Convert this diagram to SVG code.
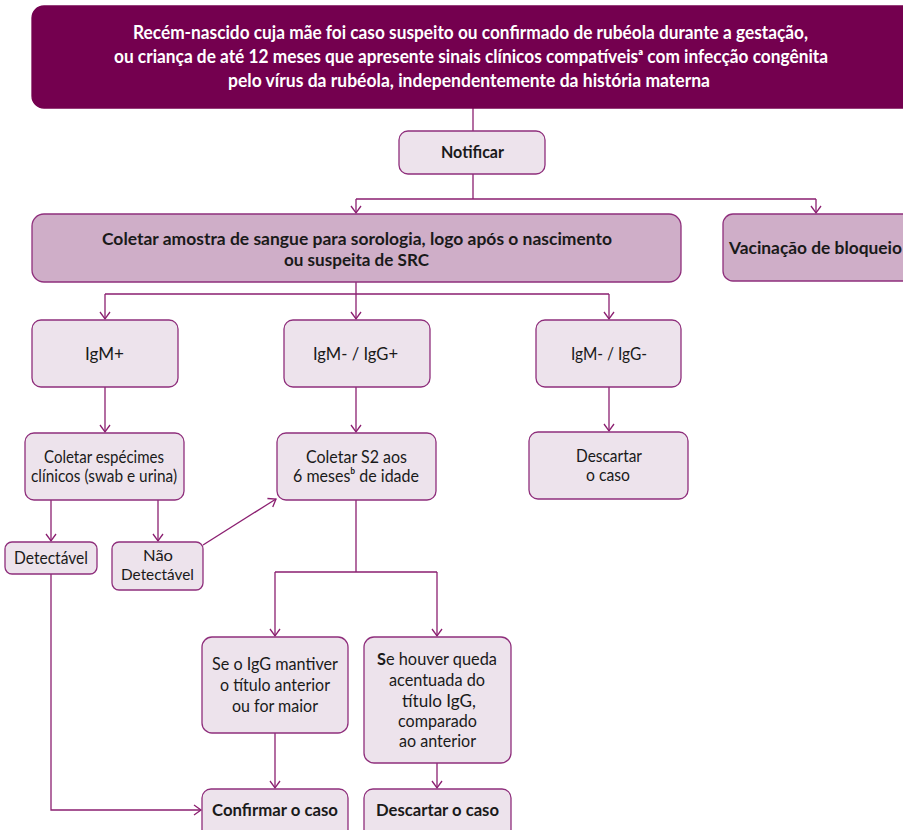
<svg xmlns="http://www.w3.org/2000/svg" width="903" height="830" viewBox="0 0 903 830">
<style>
text{font-family:Lato,"DejaVu Sans","Liberation Sans",sans-serif;fill:#1a1a1a;text-anchor:middle}
.r{font-size:17.5px}
.s{font-size:16px}
.t{font-size:18px;font-weight:bold;fill:#ffffff}
.m{font-size:17px;font-weight:bold}
.top{fill:#74004f;stroke:#74004f;stroke-width:1.3}
.mid{fill:#cfaec8;stroke:#8f2f7c;stroke-width:1.3}
.lt{fill:#ede3ec;stroke:#8f2f7c;stroke-width:1.3}
.c path{fill:none;stroke:#8b1f70;stroke-width:1.3}
.ar{marker-end:url(#ah)}
</style>
<defs>
<marker id="ah" markerUnits="userSpaceOnUse" markerWidth="14" markerHeight="14" viewBox="-9 -7 11 14" refX="0" refY="0" orient="auto">
<path d="M-7,-5 L0,0 L-7,5" fill="none" stroke="#8b1f70" stroke-width="1.3"/>
</marker>
</defs>
<rect width="903" height="830" fill="#ffffff"/>

<g class="c" id="connectors">
<path d="M473,108 V131"/>
<path d="M473,174 V199 M356,199 H816"/>
<path class="ar" d="M356,199 V213"/>
<path class="ar" d="M816,199 V213"/>
<path d="M356,282 V294 M105,294 H609"/>
<path class="ar" d="M105,294 V319"/>
<path class="ar" d="M356,294 V319"/>
<path class="ar" d="M609,294 V319"/>
<path class="ar" d="M105,387 V432"/>
<path class="ar" d="M356,387 V432"/>
<path class="ar" d="M609,387 V431"/>
<path class="ar" d="M51,500 V541"/>
<path class="ar" d="M158,500 V541"/>
<path class="ar" d="M203,545 L276,499"/>
<path d="M356,500 V572 M275,572 H437"/>
<path class="ar" d="M275,572 V636"/>
<path class="ar" d="M437,572 V636"/>
<path class="ar" d="M275,733 V788"/>
<path class="ar" d="M437,763 V788"/>
<path class="ar" d="M51,574 V810 H201"/>
</g>

<g id="n-inicio">
<rect class="top" x="32" y="6" width="885" height="102" rx="12"/>
<text class="t" x="470.5" y="38.5" textLength="675" lengthAdjust="spacingAndGlyphs">Recém-nascido cuja mãe foi caso suspeito ou confirmado de rubéola durante a gestação,</text>
<text class="t" x="471" y="63" textLength="714" lengthAdjust="spacingAndGlyphs">ou criança de até 12 meses que apresente sinais clínicos compatíveisᵃ com infecção congênita</text>
<text class="t" x="469" y="87" textLength="482" lengthAdjust="spacingAndGlyphs">pelo vírus da rubéola, independentemente da história materna</text>
</g>

<g id="n-notificar">
<rect class="lt" x="399" y="131" width="146" height="43" rx="9"/>
<text class="m" x="472.5" y="158" textLength="63" lengthAdjust="spacingAndGlyphs">Notificar</text>
</g>

<g id="n-coletar-sangue">
<rect class="mid" x="32" y="214" width="649" height="68" rx="12"/>
<text class="m" x="357" y="245" textLength="510" lengthAdjust="spacingAndGlyphs">Coletar amostra de sangue para sorologia, logo após o nascimento</text>
<text class="m" x="356.5" y="266" textLength="145" lengthAdjust="spacingAndGlyphs">ou suspeita de SRC</text>
</g>

<g id="n-vacinacao">
<rect class="mid" x="723" y="214" width="200" height="67" rx="10"/>
<text class="m" x="729" y="254" style="text-anchor:start" textLength="173" lengthAdjust="spacingAndGlyphs">Vacinação de bloqueio</text>
</g>

<g id="n-igm-pos">
<rect class="lt" x="32" y="320" width="146" height="67" rx="9"/>
<text class="r" x="104.5" y="360" textLength="39" lengthAdjust="spacingAndGlyphs">IgM+</text>
</g>

<g id="n-igm-neg-igg-pos">
<rect class="lt" x="284" y="320" width="146" height="67" rx="9"/>
<text class="r" x="355.5" y="360" textLength="85" lengthAdjust="spacingAndGlyphs">IgM- / IgG+</text>
</g>

<g id="n-igm-neg-igg-neg">
<rect class="lt" x="536" y="320" width="145" height="67" rx="9"/>
<text class="r" x="609" y="360" textLength="76" lengthAdjust="spacingAndGlyphs">IgM- / IgG-</text>
</g>

<g id="n-coletar-especimes">
<rect class="lt" x="25" y="433" width="159" height="67" rx="9"/>
<text class="r" x="104" y="462.5" textLength="120" lengthAdjust="spacingAndGlyphs">Coletar espécimes</text>
<text class="r" x="104" y="482" textLength="146" lengthAdjust="spacingAndGlyphs">clínicos (swab e urina)</text>
</g>

<g id="n-coletar-s2">
<rect class="lt" x="277" y="433" width="159" height="67" rx="9"/>
<text class="r" x="356.5" y="462.5" textLength="101" lengthAdjust="spacingAndGlyphs">Coletar S2 aos</text>
<text class="r" x="356" y="482" textLength="126" lengthAdjust="spacingAndGlyphs">6 mesesᵇ de idade</text>
</g>

<g id="n-descartar-1">
<rect class="lt" x="529" y="432" width="159" height="67" rx="9"/>
<text class="r" x="609" y="462" textLength="66" lengthAdjust="spacingAndGlyphs">Descartar</text>
<text class="r" x="608" y="481" textLength="44" lengthAdjust="spacingAndGlyphs">o caso</text>
</g>

<g id="n-detectavel">
<rect class="lt" x="5" y="542" width="92" height="32" rx="7"/>
<text class="r" x="51" y="564" textLength="74" lengthAdjust="spacingAndGlyphs">Detectável</text>
</g>

<g id="n-nao-detectavel">
<rect class="lt" x="112" y="542" width="91" height="48" rx="7"/>
<text class="s" x="158" y="560.5" textLength="30" lengthAdjust="spacingAndGlyphs">Não</text>
<text class="s" x="157.5" y="580" textLength="73" lengthAdjust="spacingAndGlyphs">Detectável</text>
</g>

<g id="n-igg-mantido">
<rect class="lt" x="202" y="637" width="146" height="96" rx="10"/>
<text class="r" x="275" y="670" textLength="126" lengthAdjust="spacingAndGlyphs">Se o IgG mantiver</text>
<text class="r" x="275" y="691" textLength="110" lengthAdjust="spacingAndGlyphs">o título anterior</text>
<text class="r" x="275" y="712" textLength="86" lengthAdjust="spacingAndGlyphs">ou for maior</text>
</g>

<g id="n-igg-queda">
<rect class="lt" x="364" y="637" width="147" height="126" rx="10"/>
<text class="r" x="437" y="665" textLength="120" lengthAdjust="spacingAndGlyphs"><tspan font-weight="bold">S</tspan>e houver queda</text>
<text class="r" x="437" y="686" textLength="96" lengthAdjust="spacingAndGlyphs">acentuada do</text>
<text class="r" x="439" y="707" textLength="74" lengthAdjust="spacingAndGlyphs">título IgG,</text>
<text class="r" x="437.5" y="727" textLength="79" lengthAdjust="spacingAndGlyphs">comparado</text>
<text class="r" x="437.5" y="747" textLength="77" lengthAdjust="spacingAndGlyphs">ao anterior</text>
</g>

<g id="n-confirmar">
<rect class="lt" x="202" y="789" width="146" height="56" rx="9"/>
<text class="m" x="275" y="816" textLength="126" lengthAdjust="spacingAndGlyphs">Confirmar o caso</text>
</g>

<g id="n-descartar-2">
<rect class="lt" x="364" y="789" width="147" height="56" rx="9"/>
<text class="m" x="437.5" y="816" textLength="123" lengthAdjust="spacingAndGlyphs">Descartar o caso</text>
</g>
</svg>
